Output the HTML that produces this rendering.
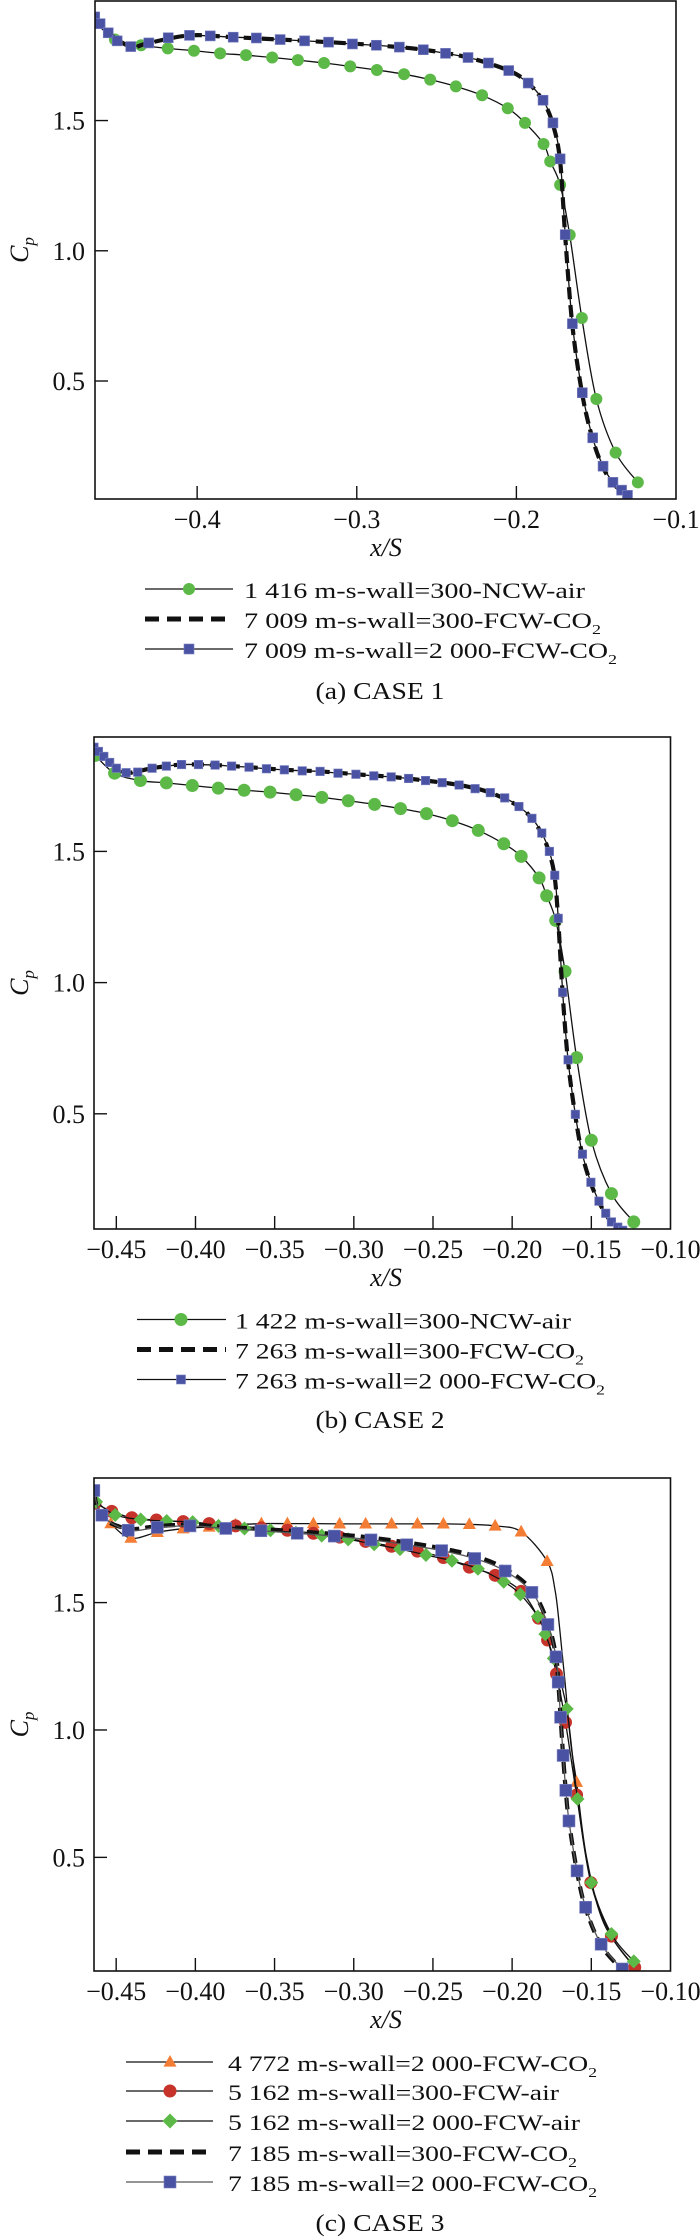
<!DOCTYPE html>
<html><head><meta charset="utf-8">
<style>
html,body{margin:0;padding:0;background:#fff;}
svg{display:block;}
text{font-family:"Liberation Serif",serif;fill:#111;}
</style></head>
<body>
<svg id="fig" width="700" height="2240" viewBox="0 0 700 2240" xmlns="http://www.w3.org/2000/svg"></svg>
<script>
// ---------- CASE 1 data ----------
const c1GreenX=[-0.464,-0.4515,-0.4351,-0.4184,-0.402,-0.3856,-0.3694,-0.3530,-0.3369,-0.3205,-0.3041,-0.2874,-0.2704,-0.2540,-0.2379,-0.2215,-0.2054,-0.1946,-0.1830,-0.1788,-0.1726,-0.1666,-0.1590,-0.1499,-0.1378,-0.1239];
const c1GreenY=[1.880,1.811,1.789,1.777,1.768,1.758,1.751,1.742,1.732,1.721,1.708,1.694,1.678,1.657,1.631,1.597,1.547,1.491,1.410,1.343,1.253,1.061,0.742,0.431,0.225,0.111];
const c1BlueX=[-0.4642,-0.4608,-0.4557,-0.4501,-0.4416,-0.4303,-0.4181,-0.4048,-0.3918,-0.3774,-0.3629,-0.3480,-0.3327,-0.3177,-0.3027,-0.2877,-0.2733,-0.2583,-0.2444,-0.2303,-0.2175,-0.2048,-0.1926,-0.1833,-0.1771,-0.1726,-0.1694,-0.1649,-0.1587,-0.1522,-0.1457,-0.1395,-0.1341,-0.1304];
const c1BlueY=[1.898,1.872,1.837,1.806,1.784,1.798,1.818,1.827,1.825,1.820,1.817,1.811,1.806,1.801,1.794,1.789,1.782,1.772,1.758,1.742,1.721,1.692,1.644,1.578,1.491,1.353,1.062,0.720,0.455,0.282,0.173,0.111,0.081,0.061];
const c1DashX=[-0.4642,-0.4557,-0.4416,-0.4303,-0.4048,-0.3774,-0.3480,-0.3177,-0.2877,-0.2583,-0.2303,-0.2048,-0.1926,-0.1833,-0.1771,-0.1726,-0.1694,-0.1649,-0.1587,-0.1522,-0.1457,-0.1395,-0.1341,-0.1304];
const c1DashY=[1.898,1.837,1.784,1.798,1.827,1.820,1.811,1.801,1.789,1.772,1.742,1.692,1.644,1.575,1.485,1.345,1.055,0.712,0.448,0.277,0.168,0.107,0.078,0.058];
const c1XTicks=[-0.4,-0.3,-0.2,-0.1];
const c1XTickLabels=["\u22120.4","\u22120.3","\u22120.2","\u22120.1"];
const yTicks=[0.5,1.0,1.5];
const yTickLabels=["0.5","1.0","1.5"];

// ---------- CASE 2 data ----------
const c2GreenX=[-0.4633,-0.4511,-0.4348,-0.4184,-0.4020,-0.3856,-0.3693,-0.3529,-0.3365,-0.3202,-0.3035,-0.2869,-0.2705,-0.2541,-0.2378,-0.2214,-0.2053,-0.1943,-0.1830,-0.1782,-0.1725,-0.1666,-0.1593,-0.1500,-0.1373,-0.1232];
const c2GreenY=[1.866,1.798,1.770,1.761,1.751,1.741,1.733,1.726,1.716,1.706,1.693,1.679,1.663,1.644,1.617,1.580,1.529,1.481,1.399,1.331,1.237,1.043,0.714,0.399,0.196,0.088];
const c2BlueX=[-0.4641,-0.4613,-0.4579,-0.4542,-0.45,-0.4438,-0.4365,-0.4274,-0.4184,-0.4088,-0.3981,-0.3876,-0.3772,-0.3662,-0.3552,-0.3439,-0.3326,-0.3213,-0.3100,-0.2987,-0.2874,-0.2764,-0.2654,-0.2547,-0.2442,-0.2335,-0.2234,-0.2138,-0.2047,-0.1957,-0.1875,-0.1813,-0.1765,-0.1731,-0.1709,-0.1681,-0.1647,-0.1601,-0.1556,-0.1503,-0.1452,-0.1409,-0.1373,-0.1333,-0.1302];
const c2BlueY=[1.897,1.881,1.862,1.839,1.817,1.800,1.802,1.817,1.825,1.831,1.831,1.829,1.825,1.821,1.815,1.811,1.807,1.805,1.798,1.794,1.788,1.784,1.778,1.770,1.762,1.753,1.739,1.724,1.704,1.671,1.626,1.570,1.500,1.409,1.245,0.963,0.706,0.498,0.346,0.239,0.167,0.121,0.088,0.068,0.056];
const c2DashX=[-0.4641,-0.4542,-0.4438,-0.4274,-0.4088,-0.3876,-0.3662,-0.3439,-0.3213,-0.2987,-0.2764,-0.2547,-0.2335,-0.2138,-0.1957,-0.1875,-0.1813,-0.1765,-0.1731,-0.1709,-0.1681,-0.1647,-0.1601,-0.1556,-0.1503,-0.1452,-0.1409,-0.1373,-0.1333,-0.1302];
const c2DashY=[1.897,1.839,1.800,1.817,1.831,1.829,1.821,1.811,1.805,1.794,1.784,1.770,1.753,1.724,1.671,1.624,1.566,1.494,1.400,1.236,0.955,0.699,0.492,0.341,0.235,0.164,0.118,0.086,0.066,0.054];
const c2XTicks=[-0.45,-0.40,-0.35,-0.30,-0.25,-0.20,-0.15,-0.10];
const c2XTickLabels=["\u22120.45","\u22120.40","\u22120.35","\u22120.30","\u22120.25","\u22120.20","\u22120.15","\u22120.10"];

// ---------- CASE 3 data ----------
const c3OrangeX=[-0.4534,-0.4407,-0.4240,-0.4077,-0.3913,-0.3746,-0.3583,-0.3419,-0.3255,-0.3089,-0.2925,-0.2761,-0.2598,-0.2434,-0.2270,-0.2107,-0.1943,-0.1779,-0.1593,-0.1226];
const c3OrangeY=[1.810,1.753,1.776,1.790,1.797,1.805,1.810,1.810,1.810,1.809,1.809,1.809,1.809,1.809,1.807,1.801,1.778,1.662,0.795,0.068];
const c3OrangeLineX=[-0.4641,-0.4534,-0.4407,-0.4240,-0.4077,-0.3913,-0.3746,-0.3583,-0.3419,-0.3255,-0.3089,-0.2925,-0.2761,-0.2598,-0.2434,-0.2270,-0.2107,-0.1943,-0.1779,-0.1729,-0.1700,-0.1667,-0.1630,-0.1593,-0.1530,-0.1420,-0.1226];
const c3OrangeLineY=[1.896,1.810,1.753,1.776,1.790,1.797,1.805,1.810,1.810,1.810,1.809,1.809,1.809,1.809,1.809,1.807,1.801,1.778,1.662,1.549,1.400,1.195,0.950,0.795,0.500,0.240,0.068];
const c3RedX=[-0.4633,-0.4528,-0.4401,-0.4246,-0.4077,-0.3913,-0.3746,-0.3583,-0.3419,-0.3255,-0.3089,-0.2925,-0.2761,-0.2598,-0.2434,-0.2270,-0.2107,-0.1943,-0.1833,-0.1776,-0.1720,-0.1663,-0.1593,-0.1503,-0.1373,-0.1226];
const c3RedY=[1.890,1.858,1.833,1.824,1.818,1.810,1.801,1.793,1.784,1.772,1.757,1.740,1.721,1.702,1.677,1.639,1.607,1.544,1.439,1.353,1.220,1.030,0.745,0.401,0.191,0.068];
const c3GreenX=[-0.4627,-0.4506,-0.4345,-0.4181,-0.4017,-0.3854,-0.3690,-0.3526,-0.3365,-0.3202,-0.3035,-0.2871,-0.2708,-0.2544,-0.2380,-0.2216,-0.2053,-0.1948,-0.1838,-0.1790,-0.1737,-0.1655,-0.1587,-0.1500,-0.1373,-0.1232];
const c3GreenY=[1.896,1.844,1.826,1.820,1.816,1.801,1.791,1.784,1.774,1.763,1.748,1.729,1.710,1.687,1.664,1.633,1.582,1.532,1.445,1.376,1.281,1.083,0.729,0.401,0.199,0.092];
const c3BlueX=[-0.4641,-0.4590,-0.4424,-0.4240,-0.4034,-0.3808,-0.3586,-0.3357,-0.3123,-0.2891,-0.2665,-0.2445,-0.2236,-0.2044,-0.1875,-0.1774,-0.1723,-0.1709,-0.1694,-0.1678,-0.1661,-0.1641,-0.1590,-0.1536,-0.1438,-0.1305];
const c3BlueY=[1.940,1.843,1.784,1.795,1.801,1.791,1.782,1.772,1.761,1.746,1.727,1.704,1.673,1.624,1.540,1.414,1.287,1.188,1.050,0.900,0.763,0.643,0.447,0.304,0.159,0.062];
const c3DashX=[-0.4641,-0.4590,-0.4424,-0.4240,-0.4034,-0.3808,-0.3586,-0.3357,-0.3123,-0.2891,-0.2665,-0.2445,-0.2236,-0.2044,-0.1875,-0.1774,-0.1723,-0.1709,-0.1694,-0.1678,-0.1661,-0.1641,-0.1590,-0.1536,-0.1438,-0.1305];
const c3DashY=[1.930,1.835,1.790,1.800,1.806,1.797,1.789,1.780,1.769,1.755,1.736,1.713,1.683,1.633,1.548,1.420,1.290,1.190,1.050,0.898,0.760,0.640,0.443,0.300,0.155,0.058];

const NS="http://www.w3.org/2000/svg";
const svg=document.getElementById('fig');
function mk(tag,attrs,parent){const e=document.createElementNS(NS,tag);for(const k in attrs)e.setAttribute(k,attrs[k]);(parent||svg).appendChild(e);return e;}

function curvePath(px,py){
  let d="M"+px[0].toFixed(2)+","+py[0].toFixed(2);
  for(let i=0;i<px.length-1;i++){
    const x0=px[Math.max(i-1,0)],y0=py[Math.max(i-1,0)],x1=px[i],y1=py[i],x2=px[i+1],y2=py[i+1],x3=px[Math.min(i+2,px.length-1)],y3=py[Math.min(i+2,px.length-1)];
    const c1x=x1+(x2-x0)/6,c1y=y1+(y2-y0)/6,c2x=x2-(x3-x1)/6,c2y=y2-(y3-y1)/6;
    d+=" C"+c1x.toFixed(2)+","+c1y.toFixed(2)+" "+c2x.toFixed(2)+","+c2y.toFixed(2)+" "+x2.toFixed(2)+","+y2.toFixed(2);
  }
  return d;
}
function marker(g,type,cx,cy,s,color){
  let e;
  if(type==='circle'){e=mk('circle',{cx:cx,cy:cy,r:s/2,fill:color},g);}
  else if(type==='square'){e=mk('rect',{x:cx-s/2,y:cy-s/2,width:s,height:s,fill:color,stroke:'#7a80c0','stroke-width':0.6},g);}
  else if(type==='tri'){const h=s*0.9;e=mk('polygon',{points:(cx)+","+(cy-h*0.6)+" "+(cx-s/2)+","+(cy+h*0.4)+" "+(cx+s/2)+","+(cy+h*0.4),fill:color},g);}
  else if(type==='diamond'){e=mk('polygon',{points:cx+","+(cy-s/2)+" "+(cx+s/2)+","+cy+" "+cx+","+(cy+s/2)+" "+(cx-s/2)+","+cy,fill:color},g);}
  return e;
}

function panel(cfg){
  const {L,R,T,B,xmin,xmax,ymin,ymax,id}=cfg;
  const sx=v=>L+(v-xmin)/(xmax-xmin)*(R-L);
  const sy=v=>B-(v-ymin)/(ymax-ymin)*(B-T);
  const g=mk('g',{});
  
  
  const clipId=id+'-clip';
  const cp=mk('clipPath',{id:clipId},g);mk('rect',{x:L,y:T,width:R-L,height:B-T},cp);
  const plot=mk('g',{'clip-path':'url(#'+clipId+')'},g);
  
  
  cfg.series.forEach(s=>{
    const sg=mk('g',{},plot);
    
    
    const lx=(s.lineX||s.x).map(sx), ly=(s.lineY||s.y).map(sy);
    const p=mk('path',{d:curvePath(lx,ly),fill:'none',stroke:s.lineColor||'#111','stroke-width':s.dash?4.2:1.3},sg);
    if(s.dash)p.setAttribute('stroke-dasharray','12 6');
    
    
    if(s.marker){
      s.x.forEach((v,i)=>{
        const m=marker(sg,s.marker,sx(v),sy(s.y[i]),s.size,s.color);
        
        
      });
    }
  });
  // frame
  const fr=mk('rect',{x:L,y:T,width:R-L,height:B-T,fill:'none',stroke:'#111','stroke-width':1.6},g);
  
  
  // x ticks
  cfg.xTicks.forEach((v,i)=>{
    const x=sx(v);
    if(x<R-1){const t=mk('line',{x1:x,x2:x,y1:B,y2:B-13,stroke:'#111','stroke-width':1.4},g);
    
    }
    const lb=mk('text',{x:x,y:B+29,'text-anchor':'middle','font-size':26},g);
    lb.textContent=cfg.xLabels[i];
    
    
  });
  yTicks.forEach((v,i)=>{
    const y=sy(v);
    const t=mk('line',{x1:L,x2:L+13,y1:y,y2:y,stroke:'#111','stroke-width':1.4},g);
    
    
    const lb=mk('text',{x:85,y:y+9,'text-anchor':'end','font-size':26},g);
    lb.textContent=yTickLabels[i];
    
    
  });
  // axis titles
  const xt=mk('text',{x:386,y:B+57,'text-anchor':'middle','font-size':26,'font-style':'italic'},g);
  xt.textContent='x/S';
  
  
  const cy=(T+B)/2;
  const yt=mk('text',{x:0,y:0,'font-size':26,'font-style':'italic','text-anchor':'middle',transform:'translate(28,'+cy+') rotate(-90)'},g);
  
  
  yt.appendChild(document.createTextNode('C'));
  const sub=mk('tspan',{'font-size':17,dy:6},yt);sub.textContent='p';
  // legend
  cfg.legend.forEach((e,i)=>{
    const ly=cfg.legY[i];
    const lg=mk('g',{},g);
    
    
    mk('line',{x1:cfg.legX0,x2:cfg.legX1,y1:ly,y2:ly,stroke:e.dash?'#111':(e.lineColor||'#111'),'stroke-width':e.dash?5:1.3,'stroke-dasharray':e.dash?'14 8':'none'},lg);
    if(e.marker)marker(lg,e.marker,cfg.legM,ly,e.size,e.color);
    const tx=mk('text',{x:cfg.legT,y:ly+9,'font-size':22,textLength:e.w,lengthAdjust:'spacingAndGlyphs'},lg);
    tx.appendChild(document.createTextNode(e.label));
    if(e.sub){const s=mk('tspan',{'font-size':14,dy:6},tx);s.textContent='2';}
  });
  const cap=mk('text',{x:380,y:cfg.capY+9,'text-anchor':'middle','font-size':24,textLength:129,lengthAdjust:'spacingAndGlyphs'},g);
  cap.textContent=cfg.caption;
  
  
}

const GREEN='#5cb947',BLUE='#4a53a3',ORANGE='#f47d35',RED='#c5332b';

panel({id:'case1',L:95,R:676,T:1,B:499,xmin:-0.464,xmax:-0.1,ymin:0.047,ymax:1.959,
 xTicks:c1XTicks,xLabels:c1XTickLabels,
 series:[
  {name:'ncw-air',x:c1GreenX,y:c1GreenY,marker:'circle',size:12,color:GREEN},
  {name:'fcw-co2-300',x:c1DashX,y:c1DashY,dash:true},
  {name:'fcw-co2-2000',x:c1BlueX,y:c1BlueY,marker:'square',size:10,color:BLUE}],
 legX0:145,legX1:233,legM:189,legT:244,legY:[589,619,649],capY:690,caption:'(a) CASE 1',
 legend:[{label:'1 416 m-s-wall=300-NCW-air',marker:'circle',size:12,color:GREEN,w:341},
  {label:'7 009 m-s-wall=300-FCW-CO',sub:true,dash:true,w:357},
  {label:'7 009 m-s-wall=2 000-FCW-CO',sub:true,marker:'square',size:10,color:BLUE,w:373}]
});

panel({id:'case2',L:94,R:670.5,T:737,B:1229,xmin:-0.4641,xmax:-0.1,ymin:0.061,ymax:1.936,
 xTicks:c2XTicks,xLabels:c2XTickLabels,
 series:[
  {name:'ncw-air',x:c2GreenX,y:c2GreenY,marker:'circle',size:13,color:GREEN},
  {name:'fcw-co2-300',x:c2DashX,y:c2DashY,dash:true},
  {name:'fcw-co2-2000',x:c2BlueX,y:c2BlueY,marker:'square',size:8.5,color:BLUE}],
 legX0:137,legX1:226,legM:181,legT:235,legY:[1319.5,1349.5,1379.5],capY:1419,caption:'(b) CASE 2',
 legend:[{label:'1 422 m-s-wall=300-NCW-air',marker:'circle',size:13,color:GREEN,w:336},
  {label:'7 263 m-s-wall=300-FCW-CO',sub:true,dash:true,w:349},
  {label:'7 263 m-s-wall=2 000-FCW-CO',sub:true,marker:'square',size:9,color:BLUE,w:370}]
});

panel({id:'case3',L:94,R:670.5,T:1478,B:1971,xmin:-0.464,xmax:-0.1,ymin:0.054,ymax:1.989,
 xTicks:c2XTicks,xLabels:c2XTickLabels,
 series:[
  {name:'4772-fcw-co2-2000',x:c3OrangeX,y:c3OrangeY,lineX:c3OrangeLineX,lineY:c3OrangeLineY,marker:'tri',size:13,color:ORANGE},
  {name:'5162-fcw-air-300',x:c3RedX,y:c3RedY,marker:'circle',size:13,color:RED},
  {name:'5162-fcw-air-2000',x:c3GreenX,y:c3GreenY,marker:'diamond',size:14,color:GREEN},
  {name:'7185-fcw-co2-300',x:c3DashX,y:c3DashY,dash:true},
  {name:'7185-fcw-co2-2000',x:c3BlueX,y:c3BlueY,marker:'square',size:12,color:BLUE,lineColor:'#555'}],
 legX0:126,legX1:213,legM:170,legT:228,legY:[2062,2091,2121,2152,2182],capY:2222,caption:'(c) CASE 3',
 legend:[{label:'4 772 m-s-wall=2 000-FCW-CO',sub:true,marker:'tri',size:13,color:ORANGE,w:369},
  {label:'5 162 m-s-wall=300-FCW-air',marker:'circle',size:13,color:RED,w:331},
  {label:'5 162 m-s-wall=2 000-FCW-air',marker:'diamond',size:15,color:GREEN,w:352},
  {label:'7 185 m-s-wall=300-FCW-CO',sub:true,dash:true,w:349},
  {label:'7 185 m-s-wall=2 000-FCW-CO',sub:true,marker:'square',size:12,color:BLUE,lineColor:'#555',w:369}]
});
</script>
</body></html>
